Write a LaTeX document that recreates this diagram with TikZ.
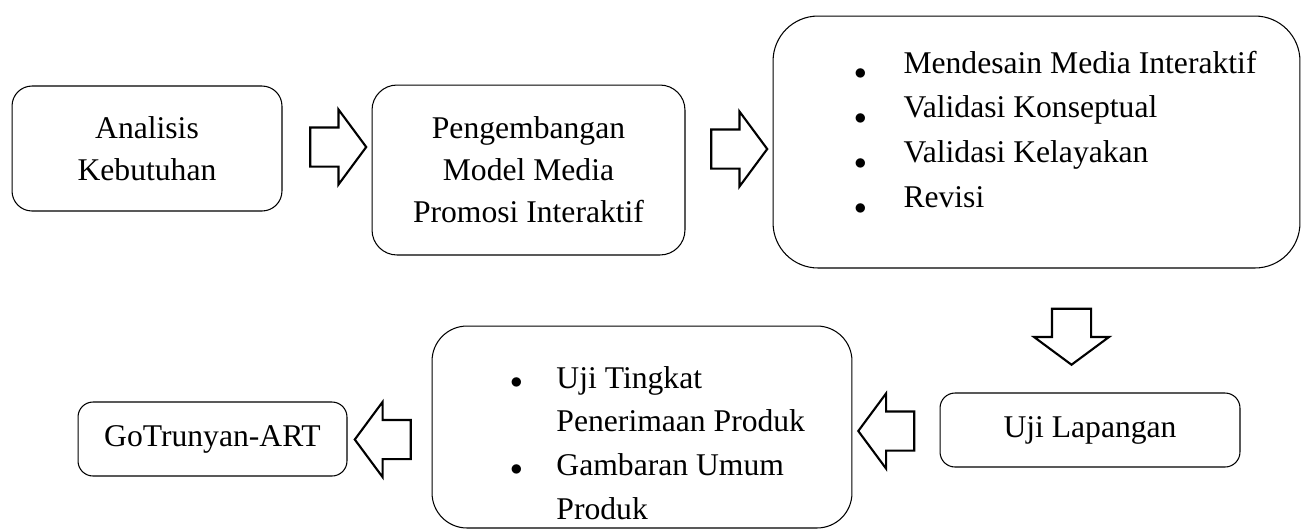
\documentclass[tikz,border=0pt]{standalone}
\usepackage{fontspec}
\setmainfont{Liberation Serif}
\usetikzlibrary{shapes.arrows}
\newcommand{\blt}[1][0pt]{\raisebox{#1}{\scalebox{0.8}{$\bullet$}}}

\begin{document}
\begin{tikzpicture}[x=0.02cm, y=-0.02cm,
box/.style={draw, line width=0.6pt, rounded corners=#1, inner sep=0pt, align=center, font=\fontsize{18}{24}\selectfont},
box/.default=0.3cm,
blockarrow/.style={draw, line width=1.2pt, single arrow, inner xsep=0pt, inner ysep=0.37cm,
	single arrow head extend=0.36cm, single arrow tip angle=107, minimum height=1.12cm},
lst/.style={inner sep=0pt, anchor=base west, font=\fontsize{18}{#1}\selectfont},]
%fixed page size
\useasboundingbox (0,0) rectangle (1304,529);
	\node[box=0.4cm, minimum width=5.4cm, minimum height=2.5cm] (analisis) at (147,148.5) {Analisis\\Kebutuhan};
	\node[box=0.5cm, minimum width=6.26cm, minimum height=3.4cm] (model) at (528.5,170) {Pengembangan\\Model Media\\Promosi Interaktif};
	\node[box=0.9cm, minimum width=10.54cm, minimum height=5.04cm] (desain) at (1036.5,142) {};
	\node[lst=25.6pt] (desainList) at (854,73) {\begin{tabular}[t]{@{}c@{\hspace{0.74cm}}l@{}}
		\blt[-0.2em] & Mendesain Media Interaktif\\
		\blt[-0.2em] & Validasi Konseptual\\
		\blt[-0.2em] & Validasi Kelayakan\\
		\blt[-0.2em] & Revisi
	\end{tabular}};
	\node[box, minimum width=6cm, minimum height=1.48cm] (lapangan) at (1090,430) {Uji Lapangan};
	\node[box=0.7cm, minimum width=8.4cm, minimum height=4.04cm] (uji) at (642,427) {};
	\node[lst=25pt] (ujiList) at (510,388) {\begin{tabular}[t]{@{}c@{\hspace{0.68cm}}l@{}}
		\blt & Uji Tingkat\\
		     & Penerimaan Produk\\
		\blt & Gambaran Umum\\
		     & Produk
	\end{tabular}};
	\node[box, minimum width=5.38cm, minimum height=1.48cm] (produk) at (212.5,439) {GoTrunyan-ART};
	%block arrows
	\node[blockarrow] (arrA) at (331,147) {};
	\node[blockarrow] (arrB) at (732,149) {};
	\node[blockarrow, shape border rotate=270, inner xsep=0.37cm, inner ysep=0pt] (arrC) at (1071.5,329.5) {};
	\node[blockarrow, shape border rotate=180] (arrD) at (893.5,431) {};
	\node[blockarrow, shape border rotate=180] (arrE) at (390,439.5) {};
\end{tikzpicture}
\end{document}
